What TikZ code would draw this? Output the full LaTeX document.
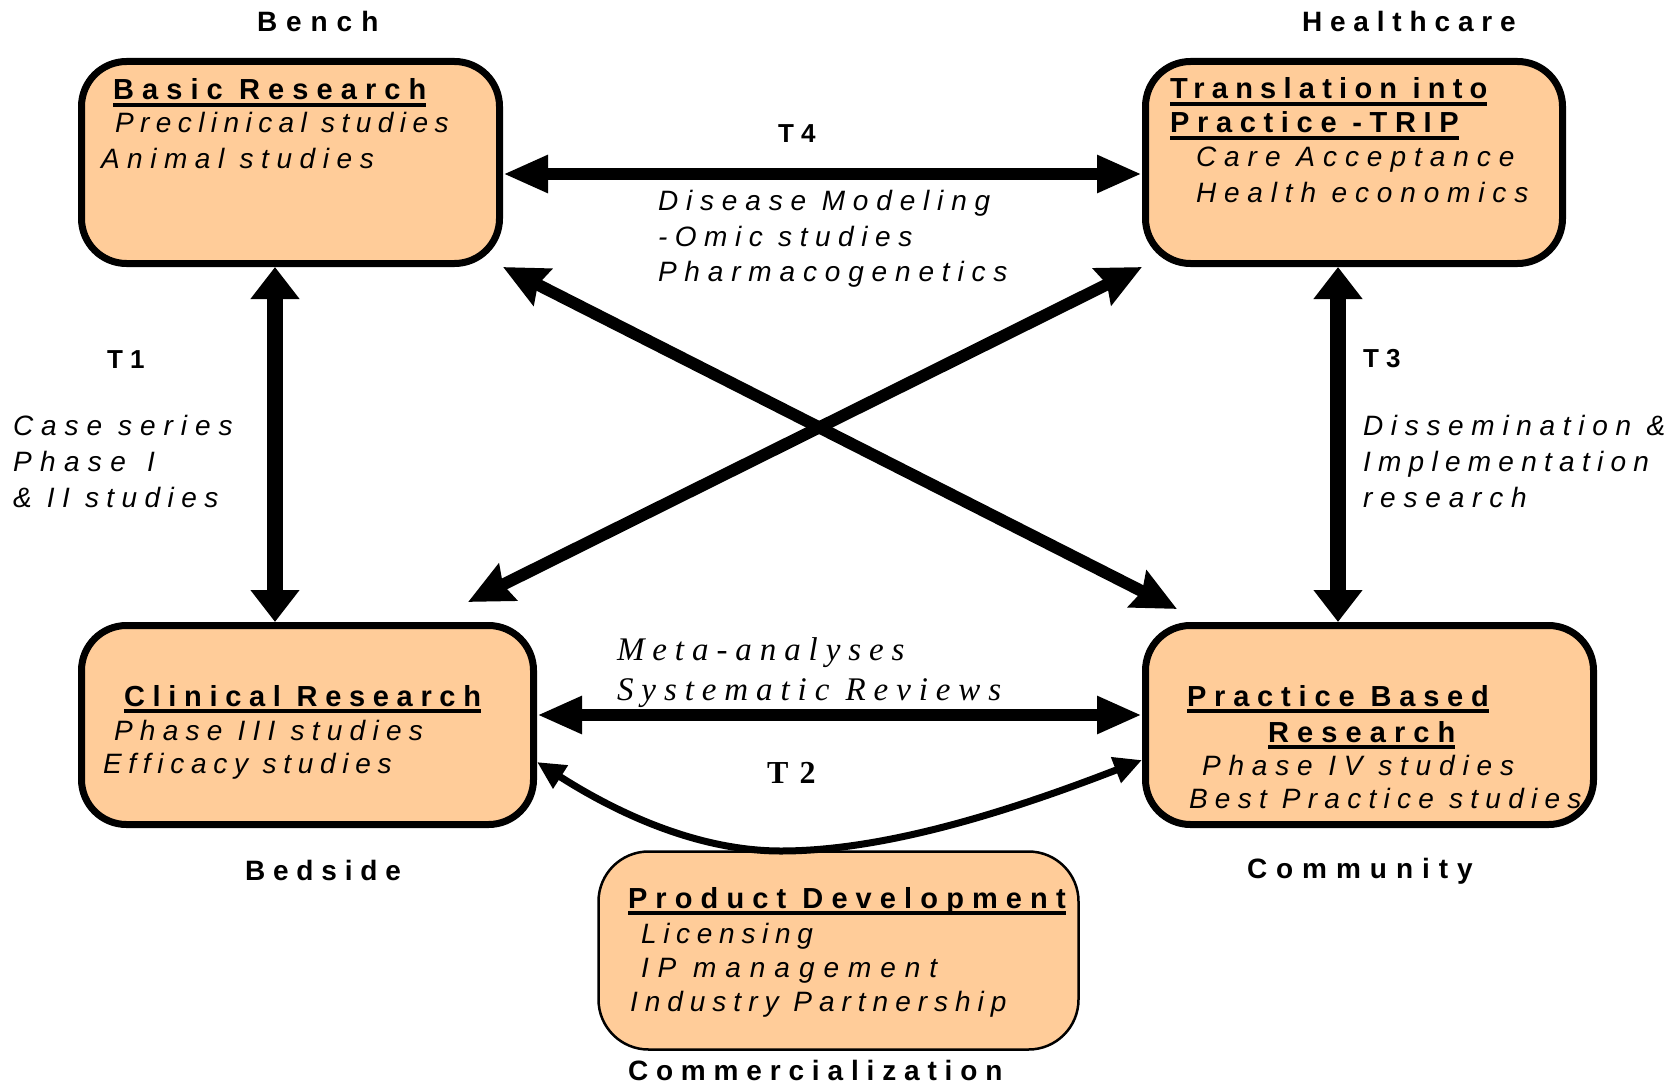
\documentclass[tikz,border=0pt]{standalone}
\usepackage{fontspec}
\setmainfont{Liberation Sans}
\newfontfamily\sfb{Liberation Sans}
\newfontfamily\sfi{Liberation Sans}
\newfontfamily\rmi{Liberation Serif}[LetterSpace=24]
\newfontfamily\rmb{Liberation Serif}[LetterSpace=35]
\usetikzlibrary{arrows.meta}
\definecolor{boxfill}{RGB}{255,204,153}
\newcommand\ulbar[1]{\setbox0\hbox{#1}\rlap{\rule[-7pt]{\wd0}{4pt}}\box0}
\begin{document}
\begin{tikzpicture}[x=1pt,y=-1pt,
  box/.style={draw, line width=7pt, rounded corners=45pt, fill=boxfill, inner sep=0pt},
  pbox/.style={draw, line width=2.5pt, rounded corners=50pt, fill=boxfill, inner sep=0pt},
  ttl/.style={anchor=base west, inner sep=0pt, outer sep=0pt, font=\sfb\bfseries\fontsize{29}{35}\selectfont\addfontfeatures{LetterSpace=#1}},
  ttl/.default=28,
  itm/.style={anchor=base west, inner sep=0pt, outer sep=0pt, font=\sfi\itshape\fontsize{28}{35}\selectfont\addfontfeatures{LetterSpace=#1}},
  itm/.default=24,
  lab/.style={anchor=base west, inner sep=0pt, outer sep=0pt, font=\sfb\bfseries\fontsize{28}{34}\selectfont\addfontfeatures{LetterSpace=#1}},
  lab/.default=28,
  tlab/.style={anchor=base west, inner sep=0pt, outer sep=0pt, font=\sfb\bfseries\fontsize{26}{32}\selectfont\addfontfeatures{LetterSpace=28}},
  mlab/.style={anchor=base west, inner sep=0pt, outer sep=0pt, font=\rmi\itshape\fontsize{33}{40}\selectfont},
  t2lab/.style={anchor=base west, inner sep=0pt, outer sep=0pt, font=\rmb\bfseries\fontsize{32}{38}\selectfont},
  harr/.style={line width=12pt, {Triangle[length=45pt,width=35pt]}-{Triangle[length=45pt,width=35pt]}},
  varr/.style={line width=16pt, {Triangle[length=32pt,width=47pt]}-{Triangle[length=32pt,width=47pt]}},
  darr/.style={line width=12pt, {Stealth[length=44pt,width=40pt,inset=5pt]}-{Stealth[length=44pt,width=40pt,inset=5pt]}},
  carr/.style={line width=7pt, {Triangle[length=28pt,width=26pt]}-{Triangle[length=28pt,width=26pt]}}
]
\useasboundingbox (0,0) rectangle (1677,1086);

% boxes
\node[box, minimum width=418pt, minimum height=202pt] (basic) at (290.5,162.5) {};
\node[box, minimum width=417pt, minimum height=202pt] (trip) at (1354,162.5) {};
\node[box, minimum width=452pt, minimum height=199pt] (clinical) at (307.5,725) {};
\node[box, minimum width=448pt, minimum height=199pt] (practice) at (1369.5,725) {};
\node[pbox, minimum width=480pt, minimum height=198pt] (product) at (838.5,950.5) {};

% corner labels
\node[lab=32] (bench) at (257,32) {Bench};
\node[lab] (health) at (1302,32) {Healthcare};
\node[lab] (bedside) at (245,880) {Bedside};
\node[lab=32] (community) at (1247,878) {Community};
\node[lab] (commerc) at (628,1080) {Commercialization};

% basic research
\node[ttl] (basicT) at (113,100) {\ulbar{Basic Research}};
\node[itm=23] (basic1) at (115,133) {Preclinical studies};
\node[itm=27] (basic2) at (101,168) {Animal studies};

% translation into practice
\node[ttl=25] (tripT1) at (1170,99) {\ulbar{Translation into}};
\node[ttl=26.5] (tripT2) at (1170,133) {\ulbar{Practice -TRIP}};
\node[itm=28.5] (trip1) at (1196,167) {Care Acceptance};
\node[itm=28] (trip2) at (1196,202) {Health economics};

% clinical research
\node[ttl=26.5] (clinT) at (124,706) {\ulbar{Clinical Research}};
\node[itm=26] (clin1) at (114,740) {Phase III studies};
\node[itm] (clin2) at (103,773) {Efficacy studies};

% practice based research
\node[ttl=27] (pracT1) at (1187,706) {\ulbar{Practice Based}};
\node[ttl] (pracT2) at (1268,742) {\ulbar{Research}};
\node[itm=28] (prac1) at (1202,775) {Phase IV studies};
\node[itm=26] (prac2) at (1189,808) {Best Practice studies};

% product development
\node[ttl] (prodT) at (628,908) {\ulbar{Product Development}};
\node[itm] (prod1) at (641,943) {Licensing};
\node[itm=32] (prod2) at (641,977) {IP management};
\node[itm=25] (prod3) at (630,1011) {Industry Partnership};

% T4
\node[tlab] (t4) at (778,143) {T4};
\node[itm=28] (t4a) at (658,211) {Disease Modeling};
\node[itm=27] (t4b) at (658,246) {-Omic studies};
\node[itm=28] (t4c) at (658,281) {Pharmacogenetics};

% T1
\node[tlab] (t1) at (107,368) {T1};
\node[itm=28.5] (t1a) at (13,435) {Case series};
\node[itm=30] (t1b) at (13,471) {Phase\kern5pt\ I};
\node[itm=26.5] (t1c) at (13,507) {\& II studies};

% T3
\node[tlab] (t3) at (1363,367) {T3};
\node[itm=27.5] (t3a) at (1363,435) {Dissemination \&};
\node[itm=26] (t3b) at (1363,471) {Implementation};
\node[itm=28] (t3c) at (1363,507) {research};

% T2
\node[mlab] (meta1) at (617,660) {Meta-analyses};
\node[mlab] (meta2) at (617,700) {Systematic Reviews};
\node[t2lab] (t2) at (767,783) {T2};

% connectors
\draw[harr] ([yshift=-11.5pt]basic.east) -- ([yshift=-11.5pt]trip.west);
\draw[harr] ([yshift=10pt]clinical.east) -- ([yshift=10pt]practice.west);
\draw[varr] ([xshift=-15.5pt]basic.south) -- ([xshift=-32.5pt]clinical.north);
\draw[varr] ([xshift=-16pt]trip.south) -- ([xshift=-31.5pt]practice.north);
\draw[darr] (basic.south east) -- ([xshift=35pt,yshift=13pt]practice.north west);
\draw[darr] (trip.south west) -- ([xshift=-69pt,yshift=20pt]clinical.north east);
\coordinate (dip) at (781,851);
\draw[carr] ([yshift=-37pt]clinical.east) .. controls (620,815) and (700,851) .. (dip)
  .. controls (880,851) and (1000,815) .. ([yshift=-35pt]practice.west);
\end{tikzpicture}
\end{document}
